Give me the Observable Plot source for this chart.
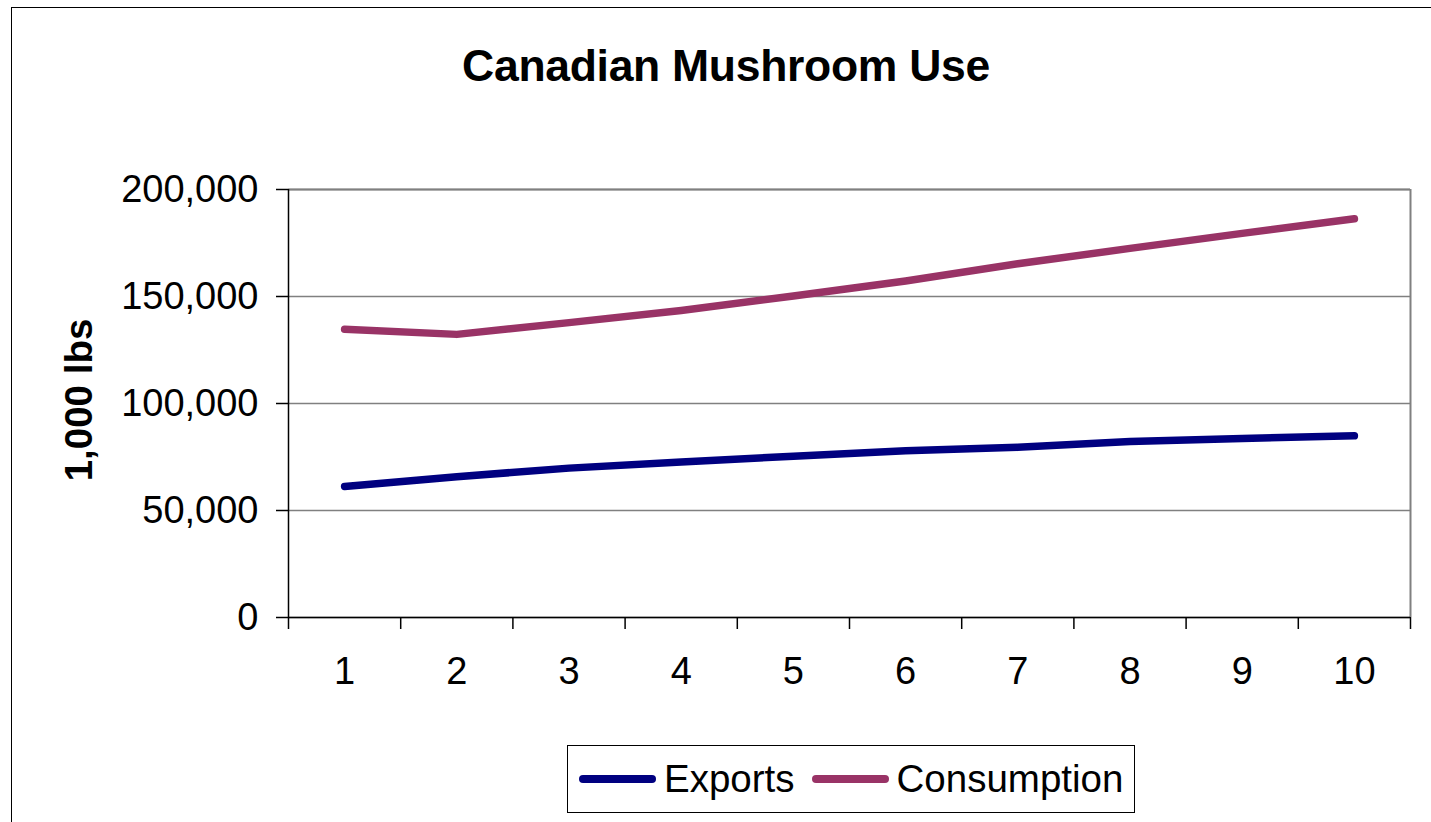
<!DOCTYPE html>
<html>
<head>
<meta charset="utf-8">
<script src="https://cdn.jsdelivr.net/npm/d3@7"></script>
<script src="https://cdn.jsdelivr.net/npm/@observablehq/plot@0.6"></script>
<style>
  html, body { margin: 0; padding: 0; background: #fff; }
  body { width: 1431px; height: 822px; overflow: hidden; position: relative; font-family: Arial, "Liberation Sans", sans-serif; }
  #frame { position: absolute; left: 11px; top: 7px; width: 1440px; height: 840px; border-left: 1.5px solid #000; border-top: 1.5px solid #000; box-sizing: border-box; }
  #title { position: absolute; left: 0; width: 1452px; top: 44px; text-align: center; font-weight: bold; font-size: 44.5px; color: #000; line-height: 1; letter-spacing: -0.3px; }
  #chart { position: absolute; left: 0; top: 140px; }
  #ylabel { position: absolute; left: 79px; top: 400px; transform: translate(-50%, -50%) rotate(-90deg); font-weight: bold; font-size: 38.5px; white-space: nowrap; color: #000; }
  #legend { position: absolute; left: 567px; top: 745px; width: 568px; height: 68px; border: 1.5px solid #000; box-sizing: border-box; display: flex; align-items: center; padding-left: 11px; }
  .item { display: flex; align-items: center; margin-right: 17px; font-size: 38.5px; color: #000; }
  .swatch { width: 77px; height: 7.5px; border-radius: 4px; margin-right: 8px; }
</style>
</head>
<body>
<div id="frame"></div>
<div id="title"></div>
<div id="ylabel"></div>
<div id="chart"></div>
<div id="legend"></div>
<script>
const chartTitle = "Canadian Mushroom Use";
const yAxisTitle = "1,000 lbs";
const categories = [1, 2, 3, 4, 5, 6, 7, 8, 9, 10];
const seriesNames = ["Exports", "Consumption"];
const seriesColors = ["#000080", "#993366"];
const exportsValues = [61200, 65800, 69800, 72700, 75400, 77900, 79500, 82200, 83700, 84900];
const consumptionValues = [134700, 132300, 137800, 143500, 150200, 157200, 165300, 172500, 179500, 186300];
const yTicks = [0, 50000, 100000, 150000, 200000];

document.getElementById("title").textContent = chartTitle;
document.getElementById("ylabel").textContent = yAxisTitle;

const rows = [];
categories.forEach((c, i) => {
  rows.push({cat: c, value: exportsValues[i], series: seriesNames[0]});
  rows.push({cat: c, value: consumptionValues[i], series: seriesNames[1]});
});
const boundaries = [categories[0] - 0.5, ...categories.map(c => c + 0.5)];
const xMin = boundaries[0], xMax = boundaries[boundaries.length - 1];
const yMax = yTicks[yTicks.length - 1];

const fmt = d3.format(",");
const chart = Plot.plot({
  width: 1431,
  height: 600,
  marginLeft: 288,
  marginRight: 21,
  marginTop: 49,
  marginBottom: 123,
  style: {fontFamily: 'Arial, "Liberation Sans", sans-serif', background: "transparent", overflow: "visible"},
  x: {type: "linear", domain: [xMin, xMax]},
  y: {domain: [0, yMax]},
  color: {domain: seriesNames, range: seriesColors},
  marks: [
    Plot.gridY(yTicks, {stroke: "#808080", strokeOpacity: 1, strokeWidth: 1.5}),
    Plot.ruleX([xMax], {stroke: "#808080", strokeWidth: 2}),
    Plot.ruleY([yMax], {stroke: "#808080", strokeWidth: 2}),
    Plot.ruleX([xMin], {stroke: "#000", strokeWidth: 1.5}),
    Plot.ruleY([0], {stroke: "#000", strokeWidth: 1.5}),
    Plot.axisY({ticks: yTicks, tickSize: 12, tickPadding: 18, tickFormat: fmt, fontSize: 38, stroke: "#000", strokeWidth: 1.5, label: null, color: "#000"}),
    Plot.axisX({ticks: boundaries, tickSize: 12, tickFormat: () => "", stroke: "#000", strokeWidth: 1.5, label: null}),
    Plot.axisX({ticks: categories, tickSize: 0, tickPadding: 40, tickFormat: d => String(d), fontSize: 38, label: null, color: "#000"}),
    Plot.line(rows, {x: "cat", y: "value", z: "series", stroke: "series", strokeWidth: 7.5, strokeLinecap: "round", strokeLinejoin: "round"})
  ]
});
document.getElementById("chart").appendChild(chart);

const legend = document.getElementById("legend");
seriesNames.forEach((name, i) => {
  const item = document.createElement("div");
  item.className = "item";
  const sw = document.createElement("div");
  sw.className = "swatch";
  sw.style.background = seriesColors[i];
  const label = document.createElement("span");
  label.textContent = name;
  item.appendChild(sw);
  item.appendChild(label);
  legend.appendChild(item);
});
</script>
</body>
</html>
